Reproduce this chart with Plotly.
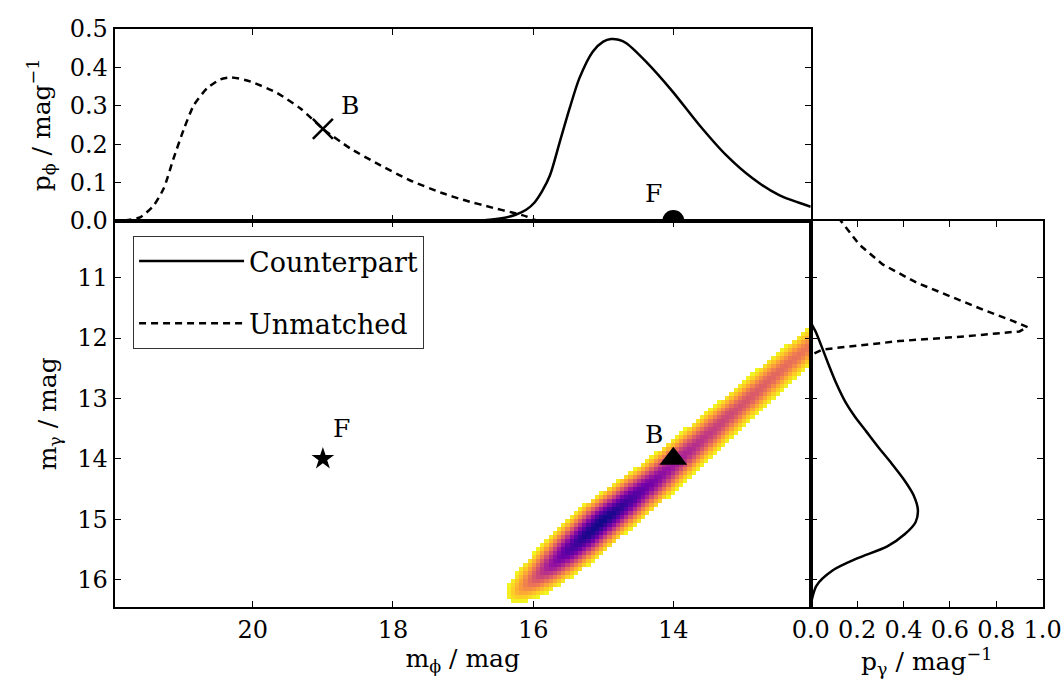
import numpy as np
import plotly.graph_objects as go

# ---------------- data ----------------
# top panel: p_phi vs m_phi
phi_unmatched = [22.0, 21.93, 21.75, 21.6, 21.41, 21.27, 21.13, 20.98, 20.84, 20.65, 20.46, 20.30,
                 20.03, 19.65, 19.32, 19.0, 18.61, 18.23, 17.76, 17.29, 17.0, 16.57, 16.3, 16.1,
                 16.0, 15.9, 12.0]
p_phi_unmatched = [0.0, 0.0, 0.003, 0.01, 0.041, 0.085, 0.163, 0.241, 0.302, 0.346, 0.369, 0.374,
                   0.363, 0.333, 0.293, 0.240, 0.189, 0.150, 0.106, 0.072, 0.055, 0.034, 0.022, 0.012,
                   0.004, 0.0, 0.0]
phi_counter = [22.0, 17.0, 16.7, 16.45, 16.25, 16.1, 15.98, 15.87, 15.76, 15.62, 15.48,
               15.34, 15.15, 15.0, 14.89, 14.78, 14.67, 14.39, 14.01, 13.63, 13.25, 12.87, 12.49, 12.04]
p_phi_counter = [0.0, 0.0, 0.002, 0.007, 0.016, 0.029, 0.048, 0.078, 0.119, 0.206, 0.293,
                 0.372, 0.441, 0.467, 0.474, 0.472, 0.463, 0.415, 0.337, 0.250, 0.172, 0.111, 0.067, 0.037]

# right panel: p_gamma vs m_gamma
gam_unmatched = [10.0, 10.06, 10.45, 10.78, 11.08, 11.31, 11.53, 11.72, 11.82, 11.89, 11.97, 12.05,
                 12.14, 12.19, 12.27, 12.35, 16.5]
p_gam_unmatched = [0.12, 0.13, 0.209, 0.31, 0.455, 0.599, 0.743, 0.873, 0.935, 0.90, 0.671, 0.382,
                   0.166, 0.05, 0.007, 0.0, 0.0]
gam_counter = [10.0, 11.72, 11.9, 12.15, 12.45, 12.75, 13.05, 13.3, 13.55, 13.8, 14.05, 14.35, 14.6,
               14.85, 15.05, 15.25, 15.45, 15.65, 15.85, 16.1, 16.43, 16.5]
p_gam_counter = [0.0, 0.0, 0.022, 0.048, 0.078, 0.11, 0.148, 0.19, 0.24, 0.29, 0.343, 0.403, 0.443,
                 0.462, 0.452, 0.405, 0.33, 0.2, 0.094, 0.025, 0.0, 0.0]

# 2-D counterpart density band (ridge)
ridge_phi = [16.35, 16.2, 16.0, 15.75, 15.5, 15.25, 15.0, 14.75, 14.5, 14.25, 14.0, 13.5, 13.0, 12.5, 12.0]
ridge_gam = [16.33, 16.2, 16.02, 15.78, 15.53, 15.28, 15.02, 14.8, 14.57, 14.35, 14.1, 13.6, 13.08, 12.56, 12.07]
ridge_level = [0.0, 0.2, 0.42, 0.68, 0.86, 0.97, 1.0, 0.94, 0.85, 0.75, 0.66, 0.55, 0.46, 0.39, 0.33]
ridge_halfwidth = [0.12, 0.3, 0.4, 0.47, 0.52, 0.54, 0.54, 0.52, 0.5, 0.47, 0.45, 0.41, 0.38, 0.35, 0.33]

# special sources
bright_phi, bright_gam, bright_p = 14.0, 14.0, 0.0     # "F" dot in top, triangle "B" in main
faint_phi, faint_gam, faint_p = 19.0, 14.0, 0.24       # star "F" main, cross "B" top

# ---------------- build the heatmap grid ----------------
phi_grid = np.arange(11.97, 16.6, 0.06)
gam_grid = np.arange(11.4, 16.6, 0.066)
P, G = np.meshgrid(phi_grid, gam_grid)
ra = (np.array(ridge_phi) + np.array(ridge_gam)) / 2.0
ro = np.array(ridge_gam) - np.array(ridge_phi)
order = np.argsort(ra)
ra, ro = ra[order], ro[order]
rl = np.array(ridge_level)[order]
rh = np.array(ridge_halfwidth)[order]
A = (P + G) / 2.0
O = G - P
lev = np.interp(A, ra, rl)
hw = np.interp(A, ra, rh)
oc = np.interp(A, ra, ro)
u = (O - oc) / hw
f = (np.exp(-1.6 * u ** 2) - np.exp(-1.6)) / (1 - np.exp(-1.6))
Z = np.where((np.abs(u) <= 1) & (A <= ra.max()), lev * f, np.nan)

FONT = "DejaVu Serif, Liberation Serif, serif"
fig = go.Figure()

fig.add_trace(go.Heatmap(x=phi_grid, y=gam_grid, z=Z, colorscale="Plasma", reversescale=True,
                         zmin=0, zmax=1, showscale=False, zsmooth=False, hoverinfo="skip",
                         xaxis="x", yaxis="y"))

dash = "7px,5px"
# top panel
fig.add_trace(go.Scatter(x=phi_counter, y=p_phi_counter, mode="lines", name="Counterpart",
                         legendgroup="a",
                         line=dict(color="black", width=2.5, shape="spline", smoothing=0.8),
                         xaxis="x2", yaxis="y2", showlegend=True))
fig.add_trace(go.Scatter(x=phi_unmatched, y=p_phi_unmatched, mode="lines", name="Unmatched",
                         legendgroup="b",
                         line=dict(color="black", width=2.5, dash=dash, shape="spline", smoothing=0.6),
                         xaxis="x2", yaxis="y2", showlegend=True))
# right panel
fig.add_trace(go.Scatter(x=p_gam_counter, y=gam_counter, mode="lines", showlegend=False,
                         line=dict(color="black", width=2.5, shape="spline", smoothing=0.8),
                         xaxis="x3", yaxis="y3"))
fig.add_trace(go.Scatter(x=p_gam_unmatched, y=gam_unmatched, mode="lines", showlegend=False,
                         line=dict(color="black", width=2.5, dash=dash, shape="linear"),
                         xaxis="x3", yaxis="y3"))

# markers
fig.add_trace(go.Scatter(x=[faint_phi], y=[faint_p], mode="markers", showlegend=False,
                         marker=dict(symbol="x-thin", size=20, line=dict(width=2.5, color="black")),
                         xaxis="x2", yaxis="y2"))
fig.add_trace(go.Scatter(x=[bright_phi], y=[bright_p], mode="markers", showlegend=False,
                         marker=dict(symbol="circle", size=22, color="black"),
                         xaxis="x2", yaxis="y2"))
fig.add_trace(go.Scatter(x=[faint_phi], y=[faint_gam], mode="markers", showlegend=False,
                         marker=dict(symbol="star", size=17, color="black"),
                         xaxis="x", yaxis="y"))
fig.add_trace(go.Scatter(x=[bright_phi], y=[bright_gam], mode="markers", showlegend=False,
                         marker=dict(symbol="triangle-up", size=24, color="black"),
                         xaxis="x", yaxis="y"))

ann_font = dict(family=FONT, size=25, color="black")
annotations = [
    dict(x=18.62, y=0.30, xref="x2", yref="y2", text="B", showarrow=False, font=ann_font),
    dict(x=14.29, y=0.072, xref="x2", yref="y2", text="F", showarrow=False, font=ann_font),
    dict(x=18.74, y=13.49, xref="x", yref="y", text="F", showarrow=False, font=ann_font),
    dict(x=14.27, y=13.6, xref="x", yref="y", text="B", showarrow=False, font=ann_font),
]

tick_font = dict(family=FONT, size=24, color="black")
title_font = dict(family=FONT, size=25, color="black")
common = dict(showline=True, linecolor="black", linewidth=2, mirror="allticks", ticks="inside",
              ticklen=6, tickwidth=1, tickcolor="black", showgrid=False, zeroline=False,
              tickfont=tick_font, automargin=False)

xr = [21.97, 12.04]
yr = [16.45, 10.06]
fig.update_layout(
    template="none",
    width=1062, height=684, margin=dict(l=0, r=0, t=0, b=0, pad=0),
    paper_bgcolor="white", plot_bgcolor="white",
    font=dict(family=FONT, color="black"),
    xaxis=dict(domain=[0.1080, 0.7634], range=xr, tickvals=[20, 18, 16, 14],
               title=dict(text="m<sub>ϕ</sub> / mag", font=title_font, standoff=2), **common),
    yaxis=dict(domain=[0.1130, 0.677], range=yr, tickvals=[11, 12, 13, 14, 15, 16],
               title=dict(text="m<sub>γ</sub> / mag", font=title_font, standoff=14), **common),
    xaxis2=dict(domain=[0.1080, 0.7634], range=xr, tickvals=[20, 18, 16, 14], showticklabels=False,
                anchor="y2", **common),
    yaxis2=dict(domain=[0.677, 0.9576], range=[0, 0.5], tickvals=[0, 0.1, 0.2, 0.3, 0.4, 0.5],
                ticktext=["0.0", "0.1", "0.2", "0.3", "0.4", "0.5"], anchor="x2",
                title=dict(text="p<sub>ϕ</sub> / mag<sup>−1</sup>", font=title_font, standoff=12), **common),
    xaxis3=dict(domain=[0.7634, 0.9818], range=[0, 1.0], tickvals=[0, 0.2, 0.4, 0.6, 0.8, 1.0],
                ticktext=["0.0", "0.2", "0.4", "0.6", "0.8", "1.0"], anchor="y3",
                title=dict(text="p<sub>γ</sub> / mag<sup>−1</sup>", font=title_font, standoff=2), **common),
    yaxis3=dict(domain=[0.1130, 0.677], range=yr, tickvals=[11, 12, 13, 14, 15, 16],
                showticklabels=False, anchor="x3", **common),
    legend=dict(x=0.1253, y=0.655, xanchor="left", yanchor="top", bgcolor="white",
                bordercolor="#333333", borderwidth=1, font=dict(family=FONT, size=27, color="black"),
                itemwidth=105, tracegroupgap=24),
    annotations=annotations,
)

fig.write_html("out.html")
